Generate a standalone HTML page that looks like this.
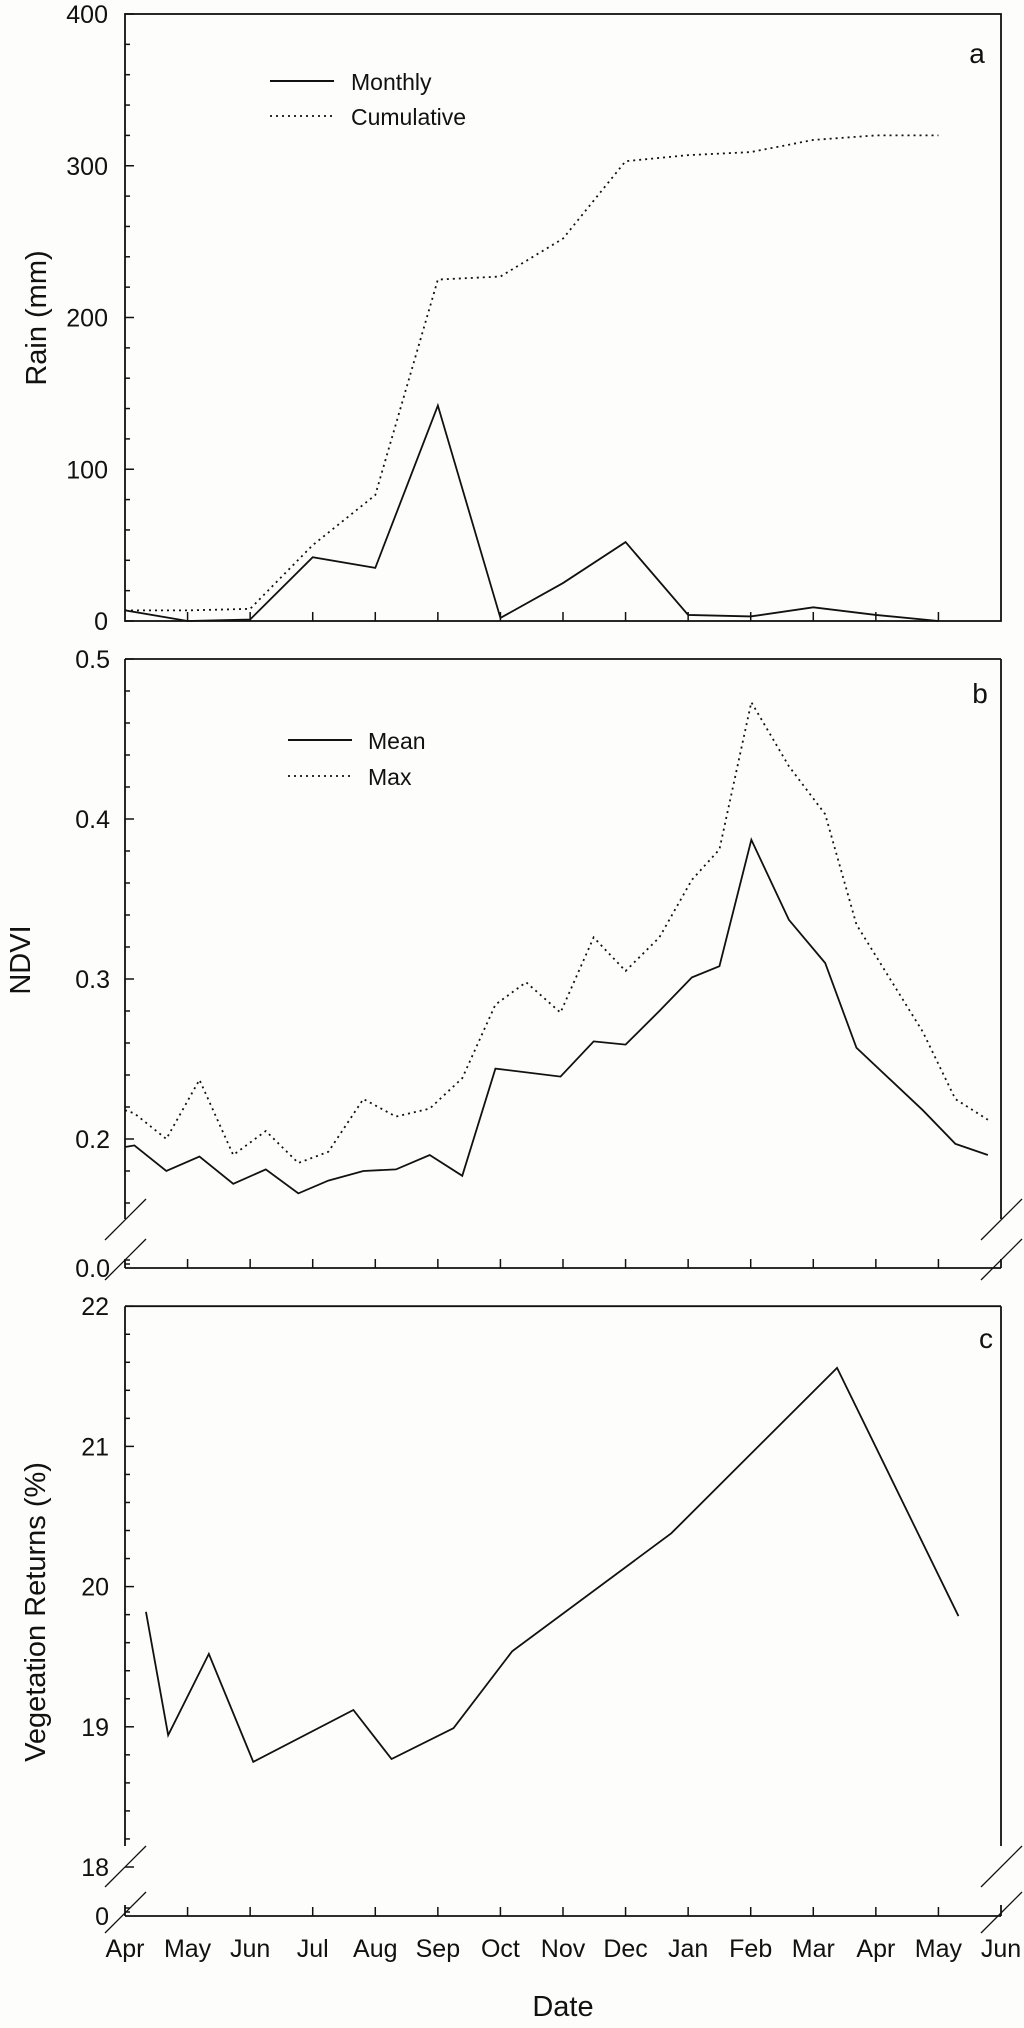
<!DOCTYPE html>
<html><head><meta charset="utf-8"><style>
html,body{margin:0;padding:0;background:#fdfdfb;}
svg{display:block;font-family:"Liberation Sans",Arial,sans-serif;}
</style></head><body>
<svg id="chart" width="1024" height="2028" viewBox="0 0 1024 2028" xmlns="http://www.w3.org/2000/svg">
<rect width="1024" height="2028" fill="#fdfdfb"/>
<g id="g" stroke="#111" fill="none"></g>
</svg>
<script>
const months = ["Apr","May","Jun","Jul","Aug","Sep","Oct","Nov","Dec","Jan","Feb","Mar","Apr","May","Jun"];
// Panel a
const rainX = [0,1,2,3,4,5,6,7,8,9,10,11,12,13];
const rainMonthly = [7,0,1,42,35,142,2,25,52,4,3,9,4,0];
const rainCumulative = [7,7,8,50,83,225,227,252,303,307,309,317,320,320];
const rainTicks = [0,100,200,300,400];
// Panel b
const ndviMeanX = [0,0.15,0.66,1.19,1.73,2.25,2.77,3.25,3.81,4.33,4.87,5.39,5.92,6.96,7.49,8.0,8.54,9.06,9.5,10.01,10.61,11.19,11.69,12.75,13.27,13.79];
const ndviMean = [0.195,0.196,0.180,0.189,0.172,0.181,0.166,0.174,0.180,0.181,0.190,0.177,0.244,0.239,0.261,0.259,0.280,0.301,0.308,0.387,0.337,0.310,0.257,0.218,0.197,0.190];
const ndviMaxX = [0,0.15,0.66,1.19,1.73,2.25,2.77,3.25,3.81,4.33,4.87,5.39,5.92,6.41,6.96,7.49,8.0,8.54,9.06,9.5,10.01,10.61,11.19,11.69,12.75,13.27,13.79];
const ndviMax = [0.218,0.216,0.200,0.237,0.190,0.205,0.185,0.192,0.225,0.214,0.219,0.238,0.284,0.298,0.279,0.326,0.305,0.326,0.362,0.381,0.473,0.433,0.403,0.334,0.267,0.225,0.212];
const ndviTicks = [0.2,0.3,0.4,0.5];
// Panel c
const vegX = [0.335,0.69,1.34,2.05,3.65,4.26,5.25,6.19,8.73,11.38,13.32];
const vegReturns = [19.82,18.94,19.52,18.75,19.12,18.77,18.99,19.54,20.38,21.56,19.79];
const vegTicks = [18,19,20,21,22];

const NS="http://www.w3.org/2000/svg";
const g=document.getElementById('g');
const L=125, R=1001;
const xs = i => L + i*(R-L)/14;
function mk(tag,attrs,parent){const e=document.createElementNS(NS,tag);for(const k in attrs)e.setAttribute(k,attrs[k]);(parent||g).appendChild(e);return e;}
function line(x1,y1,x2,y2,w){return mk('line',{x1,y1,x2,y2,'stroke-width':w||1.5});}
function text(x,y,s,size,anchor,extra){const t=mk('text',Object.assign({x,y,'font-size':size,'text-anchor':anchor||'end',fill:'#111',stroke:'none'},extra||{}));t.textContent=s;return t;}

// ---- Panel a ----
const ay = v => 621 - v*(607/400);
let e;
e=mk('rect',{x:L,y:ay(400),width:R-L,height:ay(0)-ay(400),'stroke-width':1.8});


for(let v=0;v<=400;v+=20){line(L,ay(v),L+(v%100?5:9),ay(v));}
rainTicks.forEach(v=>{e=text(108,ay(v)+9,String(v),25);

});
for(let i=1;i<14;i++)line(xs(i),ay(0),xs(i),ay(0)-9);
e=text(46,318,'Rain (mm)',29,'middle',{transform:'rotate(-90 46 318)'});


e=text(977,63,'a',28,'middle');


e=mk('polyline',{points:rainX.map((x,i)=>xs(x)+','+ay(rainMonthly[i])).join(' '),'stroke-width':1.8});


e=mk('polyline',{points:rainX.map((x,i)=>xs(x)+','+ay(rainCumulative[i])).join(' '),'stroke-width':1.8,'stroke-dasharray':'2 4'});


line(270,81,334,81,2);
line(270,116,334,116,1.8).setAttribute('stroke-dasharray','2 4');
e=text(351,90,'Monthly',23,'start');


e=text(351,125,'Cumulative',23,'start');



// ---- Panel b ----
const by = v => 1139 - (v-0.2)*1600;
const bBot=1268;
line(L,by(0.5),R,by(0.5),1.8);
line(L,by(0.5),L,1219,1.8);line(R,by(0.5),R,1219,1.8);
line(L,1259,L,bBot,1.8);line(R,1259,R,bBot,1.8);
line(L,bBot,R,bBot,1.8);
[[L],[R]].forEach(([x])=>{line(x-20,1240,x+21,1199,1.3);line(x-20,1280,x+21,1239,1.3);});
for(let k=0;k<=15;k++){const v=0.2+k*0.02;if(v>0.5001)break;line(L,by(v),L+(k%5?5:9),by(v));}
line(L,by(0.18),L+5,by(0.18));line(L,by(0.16),L+5,by(0.16));
line(L,bBot-4,L+5,bBot-4);line(L,bBot-8,L+5,bBot-8);
ndviTicks.forEach(v=>{e=text(110,by(v)+9,v.toFixed(1),25);

});
e=text(110,bBot+9,'0.0',25);


for(let i=1;i<14;i++)line(xs(i),bBot,xs(i),bBot-9);
e=text(30,960,'NDVI',29,'middle',{transform:'rotate(-90 30 960)'});


e=text(980,703,'b',28,'middle');


e=mk('polyline',{points:ndviMeanX.map((x,i)=>xs(x)+','+by(ndviMean[i])).join(' '),'stroke-width':1.8});


e=mk('polyline',{points:ndviMaxX.map((x,i)=>xs(x)+','+by(ndviMax[i])).join(' '),'stroke-width':1.8,'stroke-dasharray':'2 4'});


line(288,740,352,740,2);
line(288,776,352,776,1.8).setAttribute('stroke-dasharray','2 4');
e=text(368,749,'Mean',23,'start');


e=text(368,785,'Max',23,'start');



// ---- Panel c ----
const cy = v => 1867 - (v-18)*140.2;
const cBot=1916;
line(L,cy(22),R,cy(22),1.8);
line(L,cy(22),L,1846,1.8);line(R,cy(22),R,1846,1.8);
line(L,1905,L,cBot,1.8);line(R,1905,R,cBot,1.8);
line(L,cBot,R,cBot,1.8);
[[L],[R]].forEach(([x])=>{line(x-20,1887,x+21,1846,1.3);line(x-20,1933,x+21,1892,1.3);});
for(let k=0;k<=20;k++){const v=18+k*0.2;line(L,cy(v),L+(k%5?5:9),cy(v));}
line(L,cBot-4,L+5,cBot-4);line(L,cBot-8,L+5,cBot-8);
vegTicks.forEach(v=>{e=text(109,cy(v)+9,String(v),25);

});
e=text(109,cBot+9,'0',25);


for(let i=1;i<14;i++)line(xs(i),cBot,xs(i),cBot-9);
e=text(45,1612,'Vegetation Returns (%)',29,'middle',{transform:'rotate(-90 45 1612)'});


e=text(986,1348,'c',28,'middle');


e=mk('polyline',{points:vegX.map((x,i)=>xs(x)+','+cy(vegReturns[i])).join(' '),'stroke-width':1.8});


months.forEach((m,i)=>{e=text(xs(i),1957,m,25,'middle');

});
e=text(563,2016,'Date',29,'middle');


</script>
</body></html>
